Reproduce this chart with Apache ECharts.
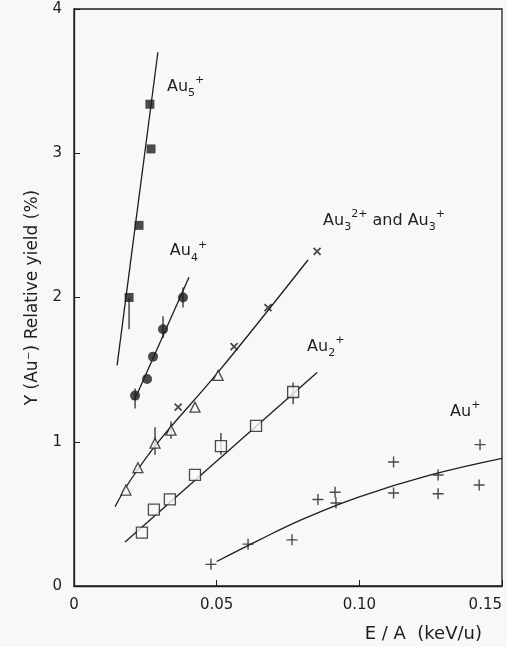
<!DOCTYPE html>
<html><head><meta charset="utf-8">
<script src="https://cdn.jsdelivr.net/npm/echarts@6/dist/echarts.min.js"></script>
<style>html,body{margin:0;padding:0;background:#f8f8f6;}#c{width:507px;height:647px;}</style>
</head><body><div id="c"></div>
<script>
// Data
const au5X = [0.0193, 0.0228, 0.0266, 0.0270];
const au5Y = [2.00, 2.50, 3.34, 3.03];
const au5Fit = [[0.0151, 1.53], [0.0294, 3.70]];

const au4X = [0.0214, 0.0256, 0.0277, 0.0312, 0.0382];
const au4Y = [1.32, 1.435, 1.59, 1.78, 2.00];
const au4Fit = [[0.0212, 1.29], [0.0403, 2.14]];

const au3TriX = [0.0182, 0.0224, 0.0284, 0.0340, 0.0424, 0.0505];
const au3TriY = [0.665, 0.82, 0.99, 1.08, 1.24, 1.46];
const au3CrossX = [0.0365, 0.0561, 0.0680, 0.0852];
const au3CrossY = [1.24, 1.66, 1.93, 2.32];
const au3Fit = [[0.0144, 0.55], [0.0200, 0.74], [0.0300, 1.01], [0.0500, 1.47], [0.0820, 2.26]];

const au2X = [0.0238, 0.0280, 0.0336, 0.0424, 0.0515, 0.0638, 0.0768];
const au2Y = [0.37, 0.53, 0.60, 0.77, 0.97, 1.11, 1.345];
const au2Fit = [[0.0179, 0.305], [0.0852, 1.48]];

const au1X = [0.048, 0.061, 0.0764, 0.0855, 0.0915, 0.0918, 0.112, 0.112, 0.1276, 0.1276, 0.1423, 0.1420];
const au1Y = [0.15, 0.29, 0.32, 0.60, 0.65, 0.575, 0.86, 0.645, 0.77, 0.64, 0.98, 0.70];
const au1Fit = [[0.050, 0.17], [0.065, 0.32], [0.080, 0.462], [0.100, 0.618], [0.125, 0.77], [0.150, 0.885]];

const errX  = [0.0382, 0.0312, 0.0214, 0.0284, 0.0340, 0.0515, 0.0768, 0.0193];
const errLo = [1.93, 1.72, 1.23, 0.91, 1.02, 0.91, 1.26, 1.78];
const errHi = [2.07, 1.87, 1.37, 1.10, 1.14, 1.06, 1.41, 2.00];

const labelX = [0.0326, 0.0336, 0.0873, 0.0817, 0.1318];
const labelY = [3.46, 2.32, 2.53, 1.66, 1.21];
const labelText = ['{b|Au}{sub|5}{sup|+}', '{b|Au}{sub|4}{sup|+}', '{b|Au}{sub|3}{sup|2+}{b| and Au}{sub|3}{sup|+}', '{b|Au}{sub|2}{sup|+}', '{b|Au}{sup|+}'];

const xTicks = ['0', '0.05', '0.10', '0.15'];
const yTicks = ['0', '1', '2', '3', '4'];

const INK = '#1e1e1e';
const FONT = 'DejaVu Sans';
const zip = (a, b) => a.map((v, i) => [v, b[i]]);
const crossPath = 'path://M0,0L10,10M10,0L0,10';
const plusPath = 'path://M5,0L5,10M0,5L10,5';

const chart = echarts.init(document.getElementById('c'), null, {renderer: 'canvas'});
const lineS = (d, smooth) => ({type: 'line', data: d, smooth: smooth ? 0.4 : false, symbol: 'none',
  lineStyle: {color: INK, width: 1.3}, z: 2, silent: true});

chart.setOption({
  backgroundColor: '#f8f8f6',
  animation: false,
  grid: {left: 74, right: 5, top: 9, bottom: 61, show: true, borderColor: INK, borderWidth: 1.3,
    containLabel: false, outerBoundsMode: 'none'},
  xAxis: {
    type: 'value', min: 0, max: 0.15, interval: 0.05,
    axisLine: {show: true, lineStyle: {color: INK, width: 1.3}},
    axisTick: {show: true, inside: true, length: 6, lineStyle: {color: INK}},
    splitLine: {show: false},
    axisLabel: {color: INK, fontFamily: FONT, fontSize: 15, margin: 12, alignMaxLabel: 'right',
      formatter: (v) => xTicks[Math.round(v / 0.05)]}
  },
  yAxis: {
    type: 'value', min: 0, max: 4, interval: 1,
    name: 'Y (Au\u207B) Relative yield (%)', nameLocation: 'middle', nameGap: 32,
    nameTextStyle: {color: INK, fontFamily: FONT, fontSize: 17},
    axisLine: {show: true, lineStyle: {color: INK, width: 1.3}},
    axisTick: {show: true, inside: true, length: 6, lineStyle: {color: INK}},
    splitLine: {show: false},
    axisLabel: {color: INK, fontFamily: FONT, fontSize: 15, margin: 12,
      formatter: (v) => yTicks[Math.round(v)]}
  },
  graphic: [{type: 'text', right: 25, bottom: 4,
    style: {text: 'E / A  (keV/u)', fill: INK, font: '18px "DejaVu Sans"'}}],
  series: [
    lineS(au5Fit), lineS(au4Fit), lineS(au3Fit, true), lineS(au2Fit), lineS(au1Fit, true),
    {type: 'custom', data: errX.map((x, i) => [x, errLo[i], errHi[i]]), z: 3, silent: true,
      renderItem: (params, api) => {
        const p1 = api.coord([api.value(0), api.value(1)]);
        const p2 = api.coord([api.value(0), api.value(2)]);
        return {type: 'line', shape: {x1: p1[0], y1: p1[1], x2: p2[0], y2: p2[1]},
          style: {stroke: INK, lineWidth: 1.2}};
      }},
    {type: 'scatter', data: zip(au5X, au5Y), symbol: 'rect', symbolSize: 9, itemStyle: {color: INK}, z: 4},
    {type: 'scatter', data: zip(au4X, au4Y), symbol: 'circle', symbolSize: 10, itemStyle: {color: INK}, z: 4},
    {type: 'scatter', data: zip(au3TriX, au3TriY), symbol: 'triangle', symbolSize: 10,
      itemStyle: {color: '#f8f8f6', borderColor: INK, borderWidth: 1.3}, z: 4},
    {type: 'scatter', data: zip(au3CrossX, au3CrossY), symbol: crossPath, symbolSize: 7,
      itemStyle: {color: 'none', borderColor: INK, borderWidth: 1.8}, z: 4},
    {type: 'scatter', data: zip(au2X, au2Y), symbol: 'rect', symbolSize: 11,
      itemStyle: {color: '#f8f8f6', borderColor: INK, borderWidth: 1.3}, z: 4},
    {type: 'scatter', data: zip(au1X, au1Y), symbol: plusPath, symbolSize: 11,
      itemStyle: {color: 'none', borderColor: INK, borderWidth: 1.4}, z: 4},
    {type: 'scatter', data: labelX.map((x, i) => ({value: [x, labelY[i]], label: {formatter: labelText[i]}})),
      symbolSize: 0, silent: true, z: 5, itemStyle: {opacity: 1}, emphasis: {disabled: true},
      label: {show: true, position: 'right', distance: 0, color: INK, fontFamily: FONT, opacity: 1,
        rich: {
          b: {fontSize: 16, lineHeight: 24, color: INK, fontFamily: FONT, opacity: 1},
          sub: {fontSize: 11, lineHeight: 12, verticalAlign: 'bottom', color: INK, fontFamily: FONT, opacity: 1},
          sup: {fontSize: 11, lineHeight: 12, verticalAlign: 'top', color: INK, fontFamily: FONT, opacity: 1}
        }}}
  ]
});
</script></body></html>
